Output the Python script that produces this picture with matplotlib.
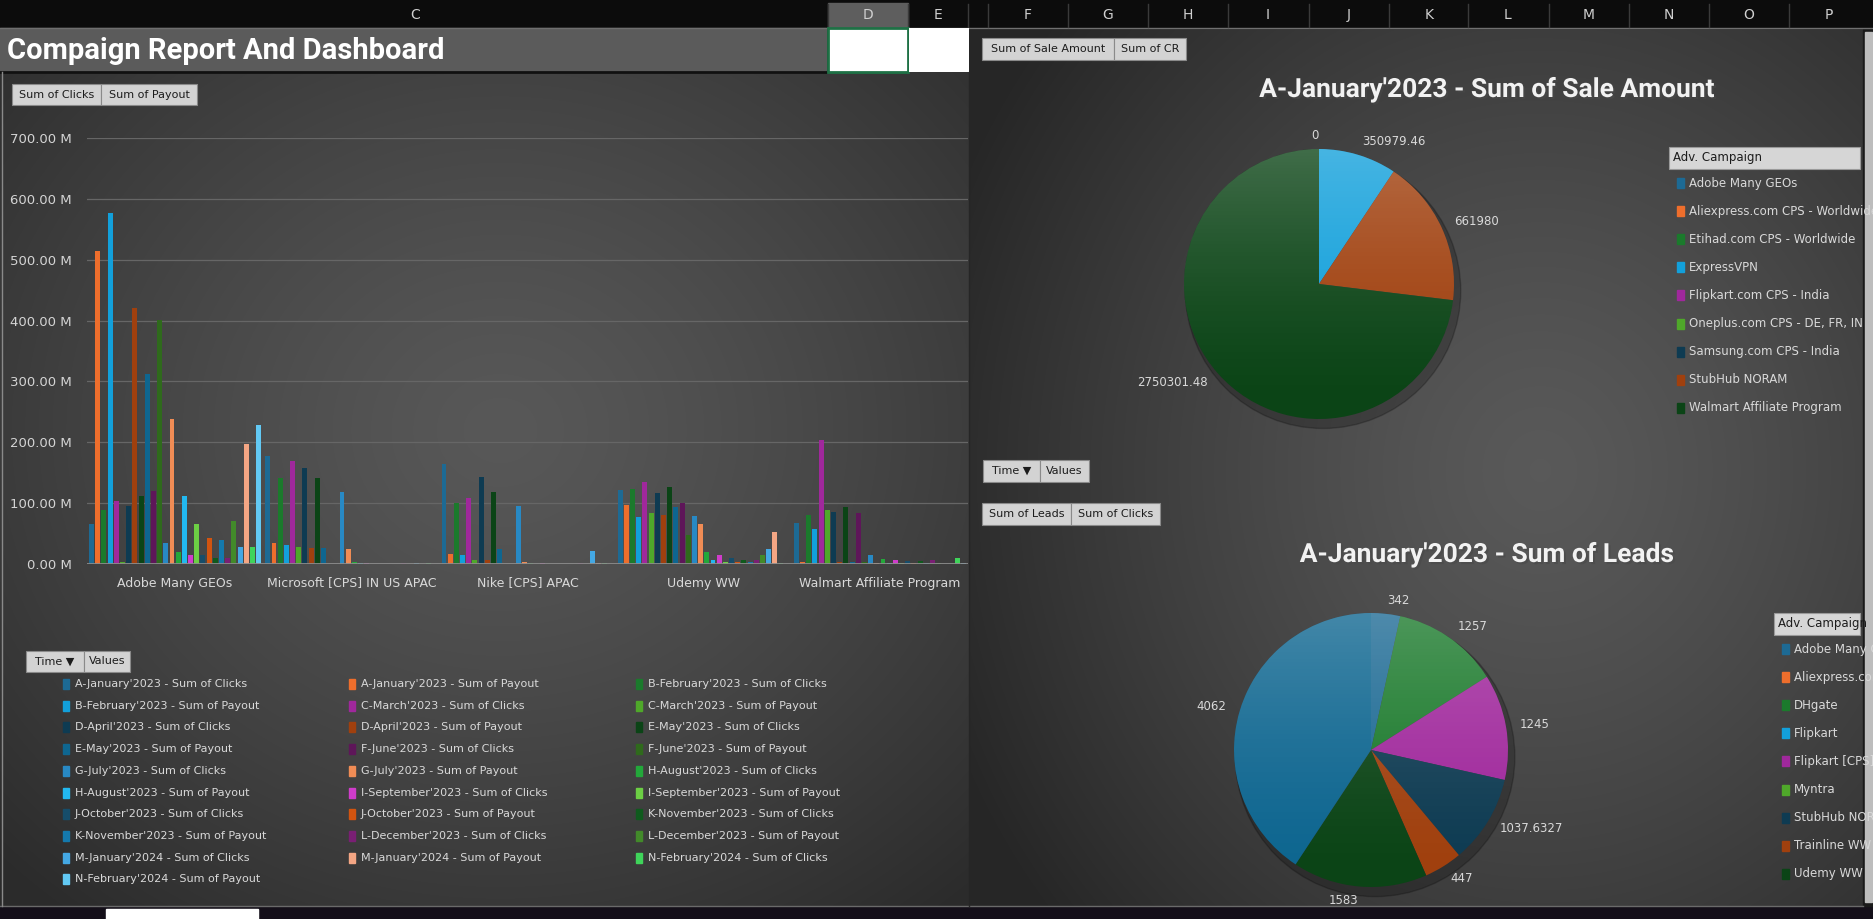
import numpy as np
import matplotlib
matplotlib.use("Agg")
import matplotlib.pyplot as plt
import matplotlib.patheffects as pe
from matplotlib.patches import Rectangle, Circle
from matplotlib.transforms import Bbox, TransformedBbox

W, H = 1874, 919

# ---- bar chart data (values in millions) ----
categories = ["Adobe Many GEOs", "Microsoft [CPS] IN US APAC", "Nike [CPS] APAC",
              "Udemy WW", "Walmart Affiliate Program"]
months = ["A-January'2023", "B-February'2023", "C-March'2023", "D-April'2023",
          "E-May'2023", "F-June'2023", "G-July'2023", "H-August'2023",
          "I-September'2023", "J-October'2023", "K-November'2023",
          "L-December'2023", "M-January'2024", "N-February'2024"]
series_names = [f"{m} - Sum of {k}" for m in months for k in ("Clicks", "Payout")]

adobe = [66, 515, 89, 576, 104, 3, 95, 420, 112, 313, 120, 401, 35, 239,
         19, 112, 15, 66, 14, 43, 10, 40, 10, 71, 28, 198, 28, 229]
microsoft = [178, 35, 142, 32, 170, 28, 157, 27, 142, 27, 0, 0, 119, 25,
             3, 1.5, 1.5, 0.5, 0.5, 0.5, 0.5, 0.5, 1, 0.5, 1, 0.5, 1.5, 0.5]
nike = [165, 17, 100, 15, 109, 7, 143, 7, 119, 24, 0, 0, 95, 4,
        1, 0.5, 1, 0.3, 0.5, 0.3, 0.3, 0.3, 1, 0.3, 22, 1, 1, 0.3]
udemy = [122, 97, 124, 78, 134, 84, 117, 81, 127, 93, 100, 48, 79, 65,
         20, 7, 14, 4, 10, 4, 7, 4, 7, 14, 24, 53, 1, 0.3]
walmart = [68, 3, 81, 58, 204, 89, 86, 3, 93, 4, 83, 4, 14, 2,
           9, 1, 7, 1, 5, 2, 5, 1, 7, 1, 0, 0, 10, 1]

colors = ['#1d6a94', '#ee6e2c', '#1b7a2c', '#12a0db', '#a0289c', '#4fa82a',
          '#0e3b52', '#a0400e', '#0b4416', '#0e6690', '#5e1659', '#2f6a1c',
          '#2889c4', '#f08c55', '#23a83a', '#22b8f0', '#d03ccb', '#6ccf44',
          '#164d6a', '#d25410', '#0f5a1d', '#1479ad', '#7a1f74', '#428a2a',
          '#44a8e4', '#f4a684', '#3fd45a', '#62c9f4']

# ---- pie 1 data ----
sale_campaigns = ["Adobe Many GEOs", "Aliexpress.com CPS - Worldwide",
                  "Etihad.com CPS - Worldwide", "ExpressVPN",
                  "Flipkart.com CPS - India", "Oneplus.com CPS - DE, FR, IN",
                  "Samsung.com CPS - India", "StubHub NORAM",
                  "Walmart Affiliate Program"]
sale_amount = [0, 0, 0, 350979.46, 0, 0, 0, 661980, 2750301.48]

# ---- pie 2 data ----
lead_campaigns = ["Adobe Many GEOs", "Aliexpress.com CPS - Worldwide", "DHgate",
                  "Flipkart", "Flipkart [CPS] IN", "Myntra", "StubHub NORAM",
                  "Trainline WW", "Udemy WW", "Walmart Affiliate Program"]
leads = [342, 0, 1257, 0, 1245, 0, 1037.6327, 447, 1583, 4062]

plt.rcParams['font.family'] = ['DejaVu Sans']

fig = plt.figure(figsize=(W / 100, H / 100), dpi=100)


def frac(x0, y0, x1, y1):
    return [x0 / W, 1 - y1 / H, (x1 - x0) / W, (y1 - y0) / H]


# background layer in pixel coordinates
bg = fig.add_axes([0, 0, 1, 1])
bg.set_xlim(0, W)
bg.set_ylim(H, 0)
bg.axis('off')

img = np.zeros((H, W, 3))
img[:] = 0.05


def radial(x0, y0, x1, y1, cx, cy, rx, ry, light, dark):
    yy, xx = np.mgrid[y0:y1, x0:x1]
    d = np.sqrt(((xx - cx) / rx) ** 2 + ((yy - cy) / ry) ** 2)
    t = np.clip(d, 0, 1)[..., None] ** 1.3
    img[y0:y1, x0:x1] = light * (1 - t) + dark * t


radial(0, 72, 969, 906, 500, 430, 700, 620, 0.345, 0.17)
radial(969, 29, 1863, 906, 1540, 470, 640, 700, 0.35, 0.15)
img[906:, :] = [0.08, 0.06, 0.1]
bg.imshow(img, extent=(0, W, H, 0), aspect='auto', zorder=0)

# excel column header strip
bg.add_patch(Rectangle((0, 0), W, 28, color='#0c0c0c', zorder=1))
bg.add_patch(Rectangle((828, 3), 80, 25, color='#5e5e5e', zorder=1))
bg.plot([0, W], [27.5, 27.5], color='#707070', lw=1, zorder=2)
for x in [828, 908, 968, 988, 1068, 1148, 1228, 1309, 1389, 1468, 1549, 1629, 1709, 1789]:
    bg.plot([x, x], [4, 27], color='#3a3a3a', lw=1, zorder=2)
for x, letter in [(415, 'C'), (868, 'D'), (938, 'E'), (1028, 'F'), (1108, 'G'),
                  (1188, 'H'), (1268, 'I'), (1349, 'J'), (1429, 'K'), (1508, 'L'),
                  (1589, 'M'), (1669, 'N'), (1749, 'O'), (1829, 'P')]:
    bg.text(x, 15, letter, color='#d0d0d0', fontsize=10, ha='center', va='center', zorder=3)

# title row
bg.add_patch(Rectangle((0, 28), 826, 44, color='#5b5b5b', zorder=1))
bg.plot([0, 826], [71.5, 71.5], color='#111111', lw=2, zorder=2)
bg.add_patch(Rectangle((828, 28), 80, 44, facecolor='white', edgecolor='#1e7145', lw=2, zorder=2))
bg.add_patch(Rectangle((909, 28), 60, 44, facecolor='white', zorder=2))
bg.text(7, 51, "Compaign Report And Dashboard", color='white', fontsize=21,
        fontweight='bold', family='Roboto', ha='left', va='center', zorder=3)

# bottom sheet-tab strip and right scroll strip
bg.plot([0, 1863], [906, 906], color='#6a6a6a', lw=1, zorder=2)
bg.add_patch(Rectangle((106, 909), 152, 10, color='white', zorder=2))
bg.add_patch(Rectangle((1863, 29), 11, 877, color='#1a1a1a', zorder=1))
bg.add_patch(Rectangle((1865, 32), 7, 870, color='#bdbdbd', zorder=2))
bg.plot([2, 2], [72, 906], color='#8a8a8a', lw=1, zorder=2)
bg.plot([969, 969], [72, 906], color='#262626', lw=1, zorder=2)


def button(x0, y0, x1, y1, label):
    bg.add_patch(Rectangle((x0, y0), x1 - x0, y1 - y0, facecolor='#d3d3d3',
                           edgecolor='#8a8a8a', lw=0.8, zorder=4))
    bg.text((x0 + x1) / 2, (y0 + y1) / 2, label, color='#1c1c1c', fontsize=8,
            ha='center', va='center', zorder=5)


button(12, 84, 101, 105, "Sum of Clicks")
button(101, 84, 197, 105, "Sum of Payout")
button(26, 651, 84, 672, "Time \u25bc")
button(84, 651, 130, 672, "Values")
button(982, 38, 1114, 60, "Sum of Sale Amount")
button(1114, 38, 1186, 60, "Sum of CR")
button(983, 460, 1040, 482, "Time \u25bc")
button(1040, 460, 1089, 482, "Values")
button(982, 503, 1071, 525, "Sum of Leads")
button(1071, 503, 1160, 525, "Sum of Clicks")

# ---- clustered bar chart ----
ax = fig.add_axes(frac(87, 138, 968, 564))
ax.patch.set_alpha(0)
vals = np.array([adobe, microsoft, nike, udemy, walmart]).T
pitch = 6.185 / 176.2
xs = np.arange(len(categories))
for j in range(len(series_names)):
    ax.bar(xs + (j - 13.5) * pitch, vals[j], width=pitch * 0.8,
           color=colors[j], zorder=3)
ax.set_xlim(-0.5, 4.5)
ax.set_ylim(0, 700)
ax.set_yticks(range(0, 701, 100))
ax.set_yticklabels([f"{v:.2f} M" for v in range(0, 701, 100)])
ax.set_xticks(xs)
ax.set_xticklabels(categories)
ax.tick_params(axis='x', length=0, pad=9, colors='#d9d9d9', labelsize=9)
ax.tick_params(axis='y', length=0, pad=11, colors='#d4d4d4', labelsize=9.5)
for s in ax.spines.values():
    s.set_visible(False)
ax.yaxis.grid(True, color='#666666', lw=0.9)
ax.set_axisbelow(True)
ax.axhline(0, color='#8c8c8c', lw=2, zorder=4)

# bottom-left legend
for j, name in enumerate(series_names):
    r, c = divmod(j, 3)
    y = 684 + r * 21.7
    x = [63, 349, 636][c]
    bg.add_patch(Rectangle((x, y - 5), 6, 10, color=colors[j], zorder=3))
    bg.text(x + 12, y, name, color='#d9d9d9', fontsize=8, ha='left', va='center', zorder=3)


def fmt(v):
    return ('%f' % v).rstrip('0').rstrip('.')


def draw_pie(cx, cy, r, values, title, ty):
    s = 1.3
    pax = fig.add_axes(frac(cx - r * s, cy - r * s, cx + r * s, cy + r * s))
    pax.axis('off')
    pax.add_patch(Circle((0.03, -0.05), 1.02, color='black', alpha=0.22, zorder=0))
    labels = [fmt(v) if (v or i == 0) else '' for i, v in enumerate(values)]
    pax.pie(values, colors=colors[:len(values)], startangle=90, counterclock=False,
            radius=1, labels=labels, labeldistance=1.1,
            wedgeprops=dict(linewidth=0),
            textprops=dict(color='#d9d9d9', fontsize=8.5))
    grad = np.zeros((256, 2, 4))
    grad[..., :3] = 1
    grad[..., 3] = (0.22 * np.linspace(1, 0, 256) ** 1.6)[:, None]
    im = pax.imshow(grad, extent=(-1, 1, -1, 1), aspect='auto', zorder=5)
    im.set_clip_path(Circle((0, 0), 1, transform=pax.transData))
    pax.set_xlim(-s, s)
    pax.set_ylim(-s, s)
    bg.text(1487, ty, title, color='#f2f2f2', fontsize=19, fontweight='bold',
            family='Roboto', ha='center', va='center', zorder=3,
            path_effects=[pe.SimplePatchShadow(offset=(1.5, -1.5), alpha=0.6), pe.Normal()])


def campaign_legend(x0, y0, names, ymax):
    bg.add_patch(Rectangle((x0, y0), 1860 - x0, 22, facecolor='#d6d6d6',
                           edgecolor='#9a9a9a', lw=0.8, zorder=4))
    # legend is cut off at the right edge of the chart
    clip = TransformedBbox(Bbox.from_extents(x0 / W, 1 - ymax / H, 1860 / W, 1 - y0 / H),
                           fig.transFigure)
    t = bg.text(x0 + 4, y0 + 11, "Adv. Campaign", color='#1c1c1c', fontsize=8.5,
                ha='left', va='center', zorder=5)
    t.set_clip_box(clip)
    for k, name in enumerate(names):
        y = y0 + 36 + k * 28.1
        if y > ymax:
            break
        bg.add_patch(Rectangle((x0 + 8, y - 5), 7, 10, color=colors[k], zorder=4))
        t = bg.text(x0 + 20, y, name, color='#d9d9d9', fontsize=8.5,
                    ha='left', va='center', zorder=4)
        t.set_clip_box(clip)


draw_pie(1319, 284, 135, sale_amount, "A-January'2023 - Sum of Sale Amount", 90)
campaign_legend(1669, 147, sale_campaigns, 440)
draw_pie(1371, 750, 137, leads, "A-January'2023 - Sum of Leads", 555)
campaign_legend(1774, 613, lead_campaigns, 888)

fig.savefig("out.png", dpi=100)
